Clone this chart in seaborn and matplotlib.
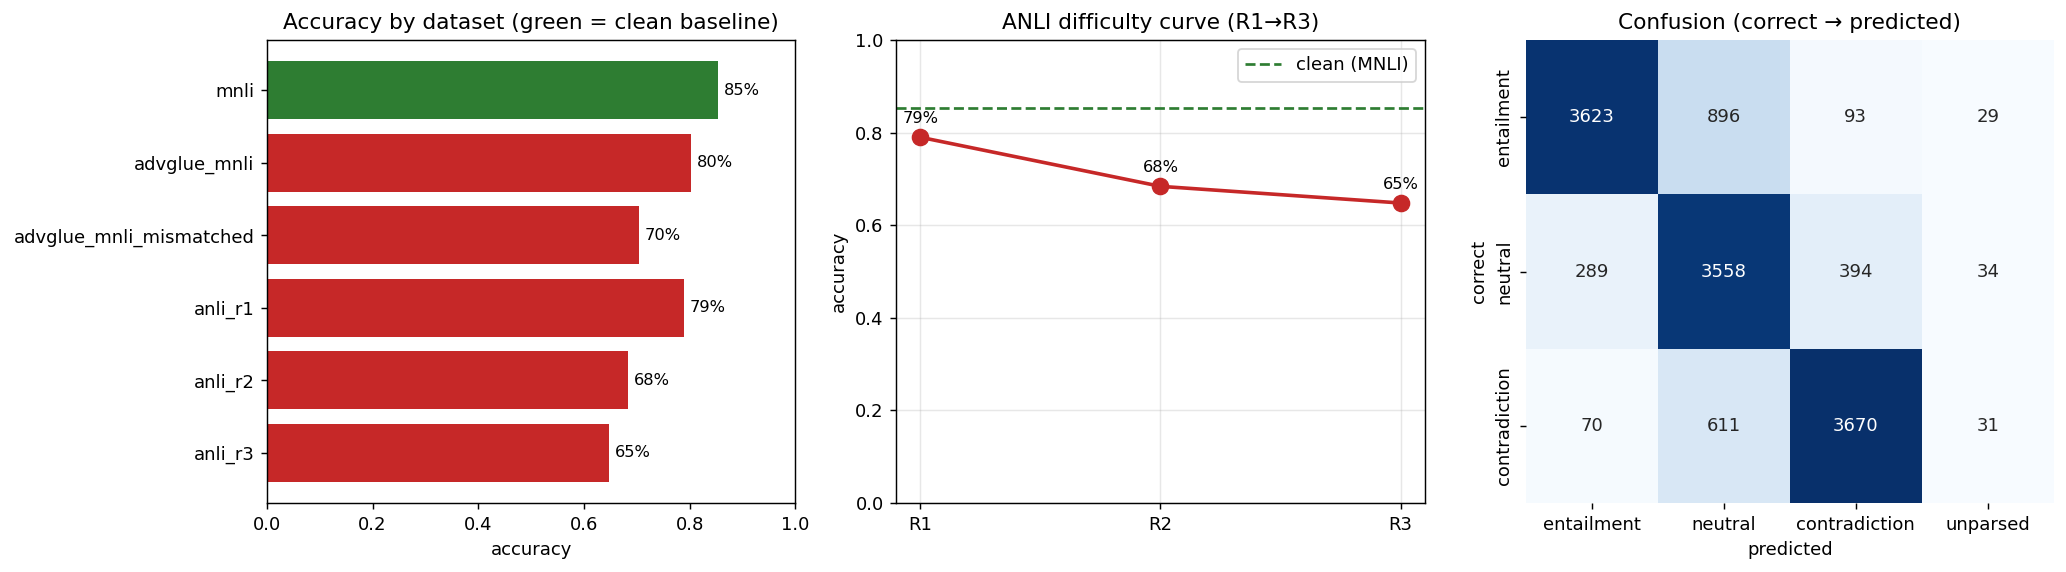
import numpy as np
import pandas as pd
import matplotlib
matplotlib.use("Agg")
import matplotlib.pyplot as plt
import seaborn as sns

# data
datasets = ["mnli", "advglue_mnli", "advglue_mnli_mismatched", "anli_r1", "anli_r2", "anli_r3"]
accuracy = [0.854, 0.803, 0.704, 0.790, 0.684, 0.648]

rounds = ["R1", "R2", "R3"]
anli_acc = [0.790, 0.684, 0.648]
clean_acc = 0.854

true_labels = ["entailment", "neutral", "contradiction"]
pred_labels = ["entailment", "neutral", "contradiction", "unparsed"]
conf_entailment = [3623, 896, 93, 29]
conf_neutral = [289, 3558, 394, 34]
conf_contradiction = [70, 611, 3670, 31]

GREEN = "#2e7d32"
RED = "#c62828"

dpi = 130
fig, axes = plt.subplots(1, 3, figsize=(2066 / dpi, 572 / dpi), dpi=dpi)

# bar chart
ax = axes[0]
colors = [GREEN if d == "mnli" else RED for d in datasets]
df = pd.DataFrame({"dataset": datasets, "accuracy": accuracy})
sns.barplot(data=df, x="accuracy", y="dataset", hue="dataset", palette=colors,
            legend=False, saturation=1, width=0.8, ax=ax)
for c in ax.containers:
    ax.bar_label(c, labels=[f"{v:.0%}" for v in c.datavalues], padding=3, fontsize=9)
n = len(datasets)
pad = 0.05 * (n - 1 + 0.8)
ax.set_ylim(n - 1 + 0.4 + pad, -0.4 - pad)
ax.set_xlim(0, 1)
ax.set_ylabel("")
ax.set_xlabel("accuracy")
ax.set_title("Accuracy by dataset (green = clean baseline)")

# ANLI curve
ax = axes[1]
sns.lineplot(x=rounds, y=anli_acc, marker="o", markersize=9, linewidth=2,
             color=RED, markeredgecolor=RED, ax=ax)
ax.axhline(clean_acc, color=GREEN, linestyle="--", linewidth=1.5, label="clean (MNLI)")
for r, v in zip(rounds, anli_acc):
    ax.annotate(f"{v:.0%}", (r, v), xytext=(0, 8), textcoords="offset points",
                ha="center", fontsize=9)
ax.set_ylim(0, 1)
ax.set_ylabel("accuracy")
ax.grid(alpha=0.3)
ax.legend(loc="upper right")
ax.set_title("ANLI difficulty curve (R1\u2192R3)")

# confusion heatmap
ax = axes[2]
cm = pd.DataFrame([conf_entailment, conf_neutral, conf_contradiction],
                  index=true_labels, columns=pred_labels)
sns.heatmap(cm, annot=True, fmt="d", cmap="Blues", cbar=False, ax=ax)
ax.set_yticklabels(true_labels, rotation=90, va="center")
ax.set_xlabel("predicted")
ax.set_ylabel("correct")
ax.set_title("Confusion (correct \u2192 predicted)")

fig.subplots_adjust(left=0.1292, right=0.9942, top=0.930, bottom=0.1206, wspace=0.191)
plt.savefig("out.png", dpi=dpi)
